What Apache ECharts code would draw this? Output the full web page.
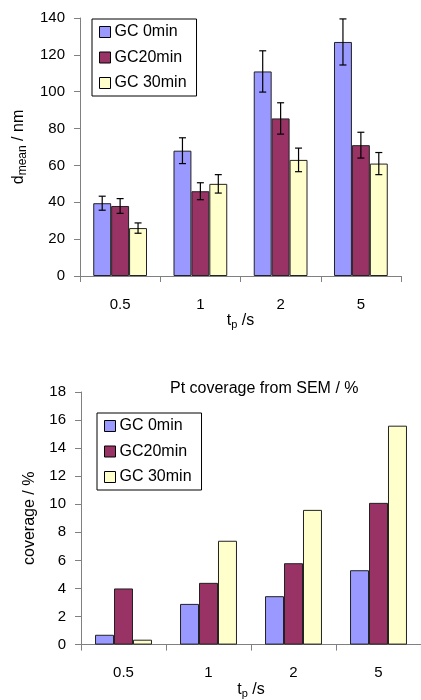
<!DOCTYPE html>
<html>
<head>
<meta charset="utf-8">
<script src="https://cdn.jsdelivr.net/npm/echarts@6/dist/echarts.min.js"></script>
<style>
  html, body { margin: 0; padding: 0; background: #fff; }
  #chart { width: 421px; height: 700px; }
</style>
</head>
<body>
<div id="chart"></div>
<script>
// Pulse times (t_p) shared by both panels
const categories = ['0.5', '1', '2', '5'];
const seriesNames = ['GC 0min', 'GC20min', 'GC 30min'];
const barColors = ['#9999FF', '#993366', '#FFFFCC'];

// Mean particle diameter (nm) and its error
const dMean0 = [39.5, 68, 111, 127];
const dMean20 = [38, 46, 85.5, 71];
const dMean30 = [26, 50, 63, 61];
const dErr0 = [3.8, 7, 11.2, 12.5];
const dErr20 = [4, 4.6, 8.5, 7];
const dErr30 = [2.8, 5, 6.4, 6];

// Pt coverage from SEM (%)
const cov0 = [0.7, 2.9, 3.45, 5.3];
const cov20 = [4.0, 4.4, 5.8, 10.1];
const cov30 = [0.35, 7.4, 9.6, 15.6];

// Axis ranges
const dAxis = { min: 0, max: 140, interval: 20 };
const covAxis = { min: 0, max: 18, interval: 2 };

const FONT = 'Liberation Sans, Arial, sans-serif';
const AXIS_GREY = '#808080';
const GAP = 0.33;

const chart = echarts.init(document.getElementById('chart'), null, { renderer: 'canvas' });

function errorSeries(values, errs, k) {
  return {
    type: 'custom',
    xAxisIndex: 0,
    yAxisIndex: 0,
    z: 10,
    silent: true,
    data: values.map((v, i) => [i, v - errs[i], v + errs[i]]),
    encode: { x: 0, y: [1, 2] },
    renderItem: function (params, api) {
      const catW = api.size([1, 0])[0];
      const bw = catW * (1 - GAP) / 3;
      const lo = api.coord([api.value(0), api.value(1)]);
      const hi = api.coord([api.value(0), api.value(2)]);
      const x = lo[0] + (k - 1) * bw;
      const cap = 3.5;
      const style = { stroke: '#000', lineWidth: 1.2 };
      return {
        type: 'group',
        children: [
          { type: 'line', shape: { x1: x, y1: lo[1], x2: x, y2: hi[1] }, style: style },
          { type: 'line', shape: { x1: x - cap, y1: hi[1], x2: x + cap, y2: hi[1] }, style: style },
          { type: 'line', shape: { x1: x - cap, y1: lo[1], x2: x + cap, y2: lo[1] }, style: style }
        ]
      };
    }
  };
}

function barSeries(name, values, k, axisIdx) {
  return {
    name: name,
    type: 'bar',
    xAxisIndex: axisIdx,
    yAxisIndex: axisIdx,
    data: values,
    barGap: '0%',
    barCategoryGap: (GAP * 100) + '%',
    itemStyle: { color: barColors[k], borderColor: '#222', borderWidth: 1 }
  };
}

function xAxisCfg(gridIndex, gap) {
  return {
    type: 'category',
    gridIndex: gridIndex,
    data: categories,
    name: 't{sub|p} /s',
    nameLocation: 'middle',
    nameGap: gap,
    nameTextStyle: {
      fontFamily: FONT, fontSize: 16, color: '#000',
      rich: { sub: { fontFamily: FONT, fontSize: 11, color: '#000', verticalAlign: 'bottom', padding: [8, 0, 0, 0] } }
    },
    axisLine: { lineStyle: { color: AXIS_GREY, width: 1 } },
    axisTick: { show: true, inside: false, length: 6, lineStyle: { color: AXIS_GREY } },
    axisLabel: { fontFamily: FONT, fontSize: 15, color: '#000', margin: 21 },
    splitLine: { show: false }
  };
}

function yAxisCfg(gridIndex, range, name, gap, rich) {
  return {
    type: 'value',
    gridIndex: gridIndex,
    min: range.min,
    max: range.max,
    interval: range.interval,
    name: name,
    nameLocation: 'middle',
    nameRotate: 90,
    nameGap: gap,
    nameTextStyle: { fontFamily: FONT, fontSize: 16, color: '#000', rich: rich },
    axisLine: { show: true, lineStyle: { color: AXIS_GREY, width: 1 } },
    axisTick: { show: true, inside: false, length: 6, lineStyle: { color: AXIS_GREY } },
    axisLabel: { fontFamily: FONT, fontSize: 15, color: '#000', margin: 15 },
    splitLine: { show: false }
  };
}

function legendCfg(left, top) {
  return {
    data: seriesNames,
    orient: 'vertical',
    left: left,
    top: top,
    icon: 'rect',
    itemWidth: 11,
    itemHeight: 11,
    itemGap: 9.5,
    padding: [5, 10, 5, 7],
    borderColor: '#000',
    borderWidth: 1,
    backgroundColor: '#fff',
    selectedMode: false,
    itemStyle: { borderColor: '#000', borderWidth: 1 },
    textStyle: { fontFamily: FONT, fontSize: 16, color: '#000', padding: [0, 0, 0, -1] }
  };
}

const option = {
  animation: false,
  backgroundColor: '#fff',
  title: {
    text: 'Pt coverage from SEM / %',
    left: 170,
    top: 381,
    padding: 0,
    textStyle: { fontFamily: FONT, fontSize: 16, fontWeight: 'normal', color: '#000' }
  },
  legend: [legendCfg(92, 19), legendCfg(97, 413)],
  grid: [
    { left: 80, top: 18, width: 321, height: 258, containLabel: false },
    { left: 81, top: 392, width: 342, height: 261, containLabel: false }
  ],
  xAxis: [xAxisCfg(0, 24), xAxisCfg(1, 33)],
  yAxis: [
    yAxisCfg(0, dAxis, 'd{sub|mean} / nm', 51,
      { sub: { fontFamily: FONT, fontSize: 12, color: '#000', verticalAlign: 'bottom', padding: [8, 0, 0, 0] } }),
    yAxisCfg(1, covAxis, 'coverage / %', 43, {})
  ],
  series: [
    barSeries(seriesNames[0], dMean0, 0, 0),
    barSeries(seriesNames[1], dMean20, 1, 0),
    barSeries(seriesNames[2], dMean30, 2, 0),
    errorSeries(dMean0, dErr0, 0),
    errorSeries(dMean20, dErr20, 1),
    errorSeries(dMean30, dErr30, 2),
    barSeries(seriesNames[0], cov0, 0, 1),
    barSeries(seriesNames[1], cov20, 1, 1),
    barSeries(seriesNames[2], cov30, 2, 1)
  ]
};

chart.setOption(option);
</script>
</body>
</html>
